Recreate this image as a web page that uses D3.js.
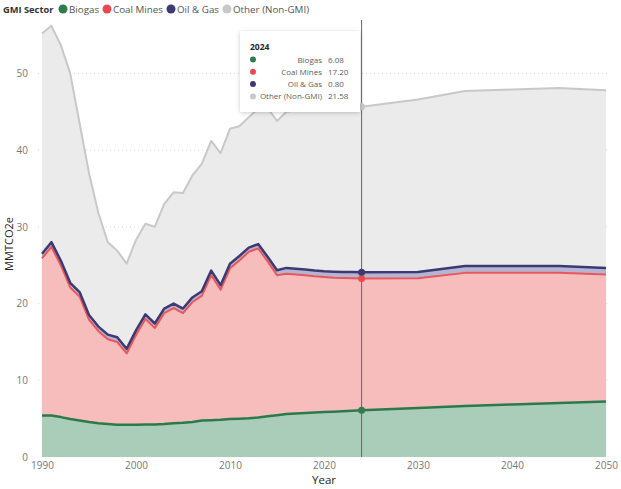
<!DOCTYPE html>
<html>
<head>
<meta charset="utf-8">
<script src="https://cdn.jsdelivr.net/npm/d3@7"></script>
<style>
    body { margin: 0; background: #fff; }
    svg text { font-family: "Open Sans", "Segoe UI", sans-serif; }
</style>
</head>
<body>
<svg width="621" height="489"></svg>
<script>
// данные (MMTCO2e)
const years = [1990, 1991, 1992, 1993, 1994, 1995, 1996, 1997, 1998, 1999,
    2000, 2001, 2002, 2003, 2004, 2005, 2006, 2007, 2008, 2009,
    2010, 2011, 2012, 2013, 2014, 2015, 2016, 2017, 2018, 2019,
    2020, 2021, 2022, 2023, 2024, 2030, 2035, 2040, 2045, 2050];

const biogas = [5.4, 5.4, 5.2, 4.95, 4.75, 4.55, 4.4, 4.3, 4.2, 4.2,
    4.2, 4.25, 4.25, 4.3, 4.4, 4.45, 4.55, 4.75, 4.8, 4.85,
    4.95, 5.0, 5.05, 5.15, 5.3, 5.45, 5.6, 5.67, 5.73, 5.8,
    5.85, 5.9, 5.97, 6.02, 6.08, 6.4, 6.65, 6.85, 7.05, 7.25];

const coalMines = [20.5, 22.0, 19.8, 17.15, 16.15, 13.35, 12.0, 11.05, 10.8, 9.3,
    11.7, 13.75, 12.55, 14.45, 15.0, 14.3, 15.65, 16.25, 18.9, 16.95,
    19.65, 20.6, 21.7, 22.05, 20.2, 18.25, 18.3, 18.13, 17.97, 17.75,
    17.6, 17.47, 17.37, 17.28, 17.20, 16.9, 17.35, 17.15, 16.95, 16.55];

const oilGas = [0.6, 0.6, 0.6, 0.6, 0.6, 0.6, 0.6, 0.6, 0.6, 0.6,
    0.6, 0.6, 0.6, 0.6, 0.6, 0.6, 0.6, 0.6, 0.6, 0.6,
    0.6, 0.6, 0.55, 0.55, 0.6, 0.65, 0.75, 0.75, 0.75, 0.75,
    0.75, 0.78, 0.78, 0.8, 0.80, 0.8, 0.9, 0.9, 0.9, 0.85];

const otherNonGmi = [28.7, 28.2, 28.1, 27.3, 22.0, 18.5, 14.8, 12.05, 11.3, 11.1,
    11.8, 11.8, 12.6, 13.65, 14.5, 15.05, 15.9, 16.6, 16.9, 17.2,
    17.6, 16.9, 17.0, 17.65, 19.4, 19.45, 20.35, 20.65, 20.85, 21.1,
    21.3, 21.35, 21.48, 21.5, 21.58, 22.5, 22.8, 23.0, 23.2, 23.15];

const sectors = ['Biogas', 'Coal Mines', 'Oil & Gas', 'Other (Non-GMI)'];
const yTicks = [0, 10, 20, 30, 40, 50];
const xTicks = [1990, 2000, 2010, 2020, 2030, 2040, 2050];
const hoverYear = 2024;

// цвета: линия и заливка
const lineColor = {
    'Biogas': '#2b7a4b',
    'Coal Mines': '#e8585a',
    'Oil & Gas': '#3b3a72',
    'Other (Non-GMI)': '#c8c8c8'
};
const fillColor = {
    'Biogas': '#aacdb9',
    'Coal Mines': '#f7bdbd',
    'Oil & Gas': '#b6b4d2',
    'Other (Non-GMI)': '#ebebeb'
};
const dotColor = {
    'Biogas': '#2e7d50',
    'Coal Mines': '#e84a4f',
    'Oil & Gas': '#3b3a72',
    'Other (Non-GMI)': '#c8c8c8'
};

const rows = years.map((y, i) => ({
    year: y,
    'Biogas': biogas[i],
    'Coal Mines': coalMines[i],
    'Oil & Gas': oilGas[i],
    'Other (Non-GMI)': otherNonGmi[i]
}));

const series = d3.stack().keys(sectors)(rows);

const svg = d3.select('svg');

const scaleX = d3.scaleLinear().domain([1990, 2050]).range([42, 606]);
const scaleY = d3.scaleLinear().domain([0, 56.7]).range([457, 22]);

// сетка
svg.append('g')
    .selectAll('line')
    .data(yTicks.filter(d => d > 0))
    .enter()
    .append('line')
    .attr('x1', 38)
    .attr('x2', 610)
    .attr('y1', d => scaleY(d))
    .attr('y2', d => scaleY(d))
    .style('stroke', '#d6d6d6')
    .style('stroke-dasharray', '1,3');

// области
const area = d3.area()
    .x(d => scaleX(d.data.year))
    .y0(d => scaleY(d[0]))
    .y1(d => scaleY(d[1]));

svg.append('g')
    .selectAll('path')
    .data(series)
    .enter()
    .append('path')
    .attr('d', area)
    .style('fill', d => fillColor[d.key]);

// линии сверху каждой области
const line = d3.line()
    .x(d => scaleX(d.data.year))
    .y(d => scaleY(d[1]));

const lineWidth = {'Biogas': 2.5, 'Coal Mines': 2, 'Oil & Gas': 2.5, 'Other (Non-GMI)': 2};

svg.append('g')
    .selectAll('path')
    .data(series)
    .enter()
    .append('path')
    .attr('d', line)
    .style('fill', 'none')
    .style('stroke', d => lineColor[d.key])
    .style('stroke-width', d => lineWidth[d.key])
    .style('stroke-linejoin', 'round');

// ось OY
const axisY = d3.axisLeft(scaleY).tickValues(yTicks).tickSize(0).tickPadding(0);
svg.append('g')
    .attr('transform', 'translate(28, 0)')
    .call(axisY)
    .call(g => g.select('.domain').remove())
    .selectAll('text')
    .style('font-family', '"Open Sans", sans-serif')
    .style('font-size', '10px')
    .style('fill', '#777');

// ось OX
const axisX = d3.axisBottom(scaleX).tickValues(xTicks).tickFormat(d3.format('d')).tickSize(0).tickPadding(5);
svg.append('g')
    .attr('transform', 'translate(0, 457)')
    .call(axisX)
    .call(g => g.select('.domain').remove())
    .selectAll('text')
    .style('font-family', '"Open Sans", sans-serif')
    .style('font-size', '10px')
    .style('fill', '#777');

// подписи осей
svg.append('text')
    .attr('x', 324)
    .attr('y', 484)
    .attr('text-anchor', 'middle')
    .style('font-size', '11.5px')
    .style('fill', '#252423')
    .text('Year');

svg.append('text')
    .attr('transform', 'translate(13, 244) rotate(-90)')
    .attr('text-anchor', 'middle')
    .style('font-size', '11px')
    .style('fill', '#252423')
    .text('MMTCO2e');

// вертикальная линия наведения
svg.append('line')
    .attr('x1', scaleX(hoverYear))
    .attr('x2', scaleX(hoverYear))
    .attr('y1', 20)
    .attr('y2', 457)
    .style('stroke', '#666')
    .style('stroke-width', 1);

// точки на линиях в выбранном году
const hoverIdx = years.indexOf(hoverYear);
svg.append('g')
    .selectAll('circle')
    .data(series)
    .enter()
    .append('circle')
    .attr('cx', scaleX(hoverYear))
    .attr('cy', d => scaleY(d[hoverIdx][1]))
    .attr('r', 3.5)
    .style('fill', d => dotColor[d.key]);

// легенда
const legend = svg.append('g');
legend.append('text')
    .attr('x', 3)
    .attr('y', 13)
    .style('font-size', '9.3px')
    .style('font-weight', 'bold')
    .style('fill', '#333')
    .text('GMI Sector');

const legendX = [63, 107, 171, 227];
sectors.forEach((s, i) => {
    legend.append('circle')
        .attr('cx', legendX[i])
        .attr('cy', 9)
        .attr('r', 4.5)
        .style('fill', dotColor[s]);
    legend.append('text')
        .attr('x', legendX[i] + 6)
        .attr('y', 13)
        .style('font-size', '9.8px')
        .style('fill', '#555')
        .text(s);
});

// всплывающая подсказка
const defs = svg.append('defs');
const filter = defs.append('filter').attr('id', 'shadow')
    .attr('x', '-20%').attr('y', '-20%').attr('width', '140%').attr('height', '140%');
filter.append('feDropShadow')
    .attr('dx', 0).attr('dy', 1).attr('stdDeviation', 2)
    .attr('flood-color', '#000').attr('flood-opacity', 0.2);

const tip = svg.append('g').attr('transform', 'translate(240, 31)');
tip.append('rect')
    .attr('width', 120)
    .attr('height', 81)
    .style('fill', '#fff')
    .attr('filter', 'url(#shadow)');
tip.append('text')
    .attr('x', 10)
    .attr('y', 19)
    .style('font-size', '8.5px')
    .style('font-weight', 'bold')
    .style('fill', '#252423')
    .text(hoverYear);

const tipValues = [biogas[hoverIdx], coalMines[hoverIdx], oilGas[hoverIdx], otherNonGmi[hoverIdx]];
sectors.forEach((s, i) => {
    const cy = 28.5 + i * 12.3;
    tip.append('circle')
        .attr('cx', 13)
        .attr('cy', cy)
        .attr('r', 3)
        .style('fill', dotColor[s]);
    tip.append('text')
        .attr('x', 82)
        .attr('y', cy + 3)
        .attr('text-anchor', 'end')
        .style('font-size', '8px')
        .style('fill', '#605e5c')
        .text(s);
    tip.append('text')
        .attr('x', 88)
        .attr('y', cy + 3)
        .style('font-size', '8px')
        .style('fill', '#605e5c')
        .text(tipValues[i].toFixed(2));
});
</script>
</body>
</html>
